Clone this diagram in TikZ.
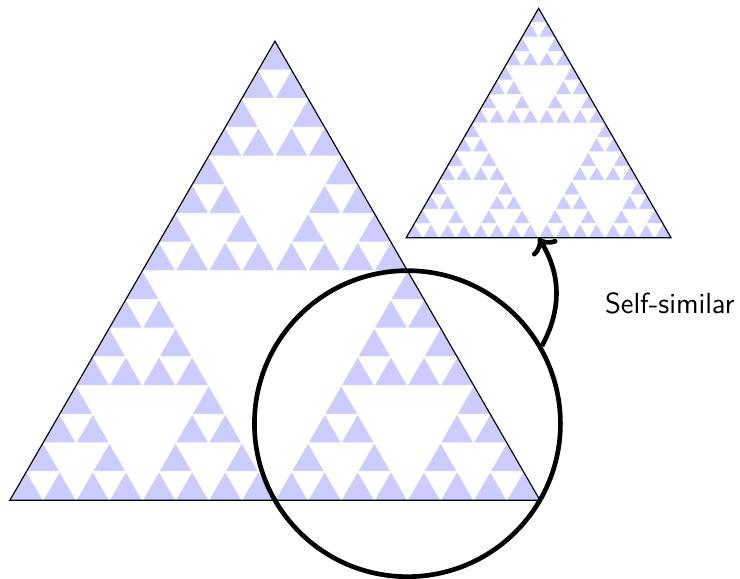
\documentclass[tikz,border=0pt]{standalone}
\usepackage{tikz}
\usetikzlibrary{arrows.meta, positioning}
\definecolor{cellblue}{HTML}{CCCCFF}
\tikzset{
  cell/.style={fill=cellblue, draw=white, line width=0.3pt},
  rim/.style={draw=black, line width=0.5pt},
  lens/.style={circle, draw=black, line width=2pt, minimum size=4.6188cm, inner sep=0pt},
  arr/.style={->, line width=2pt},
  gasket/.pic={
    \foreach \ax/\ay in {0/0, 4/0, 2/3.4641}
    \foreach \bx/\by in {0/0, 2/0, 1/1.7321}
    \foreach \cx/\cy in {0/0, 1/0, 0.5/0.8660}
    \foreach \dx/\dy in {0/0, 0.5/0, 0.25/0.4330}
      \path[cell] ({\ax+\bx+\cx+\dx},{\ay+\by+\cy+\dy}) -- ++(0.5,0) -- ++(120:0.5) -- cycle;
    \draw[rim] (0,0) -- (8,0) -- (4,6.9282) -- cycle;
  }
}
\begin{document}
\begin{tikzpicture}
\useasboundingbox (-0.15,-1.18) rectangle (11.02,7.55);
% big gasket and its half-size copy
\pic (big) at (0,0) {gasket};
\pic[scale=0.5] (small) at (5.98,3.96) {gasket};
\coordinate (copy) at (7.98,3.96);
% zoom circle round the lower right part
\node[lens] (zoom) at (6,1.1547) {};
\draw[arr] (zoom.30) to[bend right=30] (copy);
\node[font=\fontsize{12.5}{15}\selectfont\sffamily] (lbl) at (9.96,2.97) {Self-similar};
\end{tikzpicture}
\end{document}
